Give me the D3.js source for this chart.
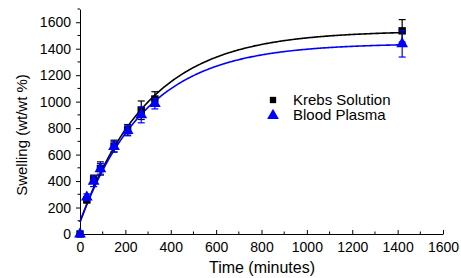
<!DOCTYPE html>
<html><head><meta charset="utf-8">
<script src="https://cdnjs.cloudflare.com/ajax/libs/d3/7.8.5/d3.min.js"></script>
<style>body{margin:0;background:#fff}svg{display:block}text{font-family:"Liberation Sans",Arial,sans-serif}</style>
</head><body><svg id="c" width="461" height="278"></svg>
<script>
const times = [0, 30, 60, 90, 150, 210, 270, 330, 1420];
const krebs = [0, 258, 415, 495, 664, 787, 935, 1020, 1535];
const krebsErr = [0, 22, 30, 50, 45, 40, 70, 55, 85];
const plasma = [0, 278, 398, 492, 660, 782, 900, 985, 1437];
const plasmaErr = [0, 25, 40, 40, 40, 40, 60, 40, 100];
// fitted model parameters: y0, amplitude, tau (minutes)
const krebsFit = [90, 1445, 303];
const plasmaFit = [90, 1350, 292];
const xTicks = [0, 200, 400, 600, 800, 1000, 1200, 1400, 1600];
const yTicks = [0, 200, 400, 600, 800, 1000, 1200, 1400, 1600];
const seriesNames = ["Krebs Solution", "Blood Plasma"];
const colors = ["#000000", "#0000ff"];

const svg = d3.select("#c");
const x = d3.scaleLinear().domain([0, 1600]).range([80, 443]);
const y = d3.scaleLinear().domain([0, 1700]).range([234, 9]);
const fmt = d3.format("d");

// axes
const xAxis = d3.axisBottom(x).tickValues(xTicks).tickFormat(fmt).tickSizeOuter(0);
const gx = svg.append("g").attr("transform", `translate(0,${y(0)})`).call(xAxis);
gx.selectAll(".tick line").attr("y2", -4);
const xMinor = d3.range(100, 1600, 200);
gx.selectAll(".minor").data(xMinor).enter().append("line")
  .attr("x1", d => x(d)).attr("x2", d => x(d)).attr("y1", 0).attr("y2", -2.5).attr("stroke", "#000");
gx.selectAll("text").attr("font-size", 14).attr("fill", "#000").attr("dy", "0.71em").attr("y", 8);
gx.select(".domain").attr("stroke", "#000");

const yAxis = d3.axisLeft(y).tickValues(yTicks).tickFormat(fmt).tickSizeInner(4).tickSizeOuter(0).tickPadding(5);
const gy = svg.append("g").attr("transform", `translate(${x(0)},0)`).call(yAxis);
const yMinor = d3.range(100, 1800, 200);
gy.selectAll(".minor").data(yMinor).enter().append("line")
  .attr("x1", 0).attr("x2", -2.5).attr("y1", d => y(d)).attr("y2", d => y(d)).attr("stroke", "#000");
gy.selectAll("text").attr("font-size", 14).attr("fill", "#000");
gy.select(".domain").attr("stroke", "#000");

svg.append("text").attr("x", 262).attr("y", 273).attr("text-anchor", "middle")
  .attr("font-size", 16).text("Time (minutes)");
svg.append("text").attr("transform", `translate(27,135) rotate(-90)`)
  .attr("text-anchor", "middle").attr("font-size", 15).text("Swelling (wt/wt %)");

// fitted curves
const line = d3.line().x(d => x(d[0])).y(d => y(d[1]));
[krebsFit, plasmaFit].forEach((p, i) => {
  const pts = d3.range(0, 1421, 5).map(t => [t, p[0] + p[1] * (1 - Math.exp(-t / p[2]))]);
  svg.append("path").attr("d", line(pts)).attr("fill", "none").attr("stroke", colors[i]).attr("stroke-width", 1.6);
});

// series points with error bars
const series = [
  {vals: krebs, err: krebsErr, sym: d3.symbolSquare, size: 55},
  {vals: plasma, err: plasmaErr, sym: d3.symbolTriangle, size: 60}
];
series.forEach((s, i) => {
  const g = svg.append("g");
  times.forEach((t, j) => {
    const e = s.err[j];
    if (e > 0) {
      const cx = x(t), y1 = y(s.vals[j] - e), y2 = y(s.vals[j] + e);
      g.append("line").attr("x1", cx).attr("x2", cx).attr("y1", y1).attr("y2", y2).attr("stroke", colors[i]).attr("stroke-width", 1.2);
      [y1, y2].forEach(yy => g.append("line").attr("x1", cx - 3.5).attr("x2", cx + 3.5).attr("y1", yy).attr("y2", yy).attr("stroke", colors[i]).attr("stroke-width", 1.2));
    }
    g.append("path").attr("d", d3.symbol(s.sym, s.size)()).attr("transform", `translate(${x(t)},${y(s.vals[j])})`).attr("fill", colors[i]);
  });
});

// legend
const leg = svg.append("g");
seriesNames.forEach((n, i) => {
  const ly = 100 + i * 15.5;
  leg.append("path").attr("d", d3.symbol(series[i].sym, i ? 60 : 40)()).attr("transform", `translate(273,${ly})`).attr("fill", colors[i]);
  leg.append("text").attr("x", 293).attr("y", ly + 4.5).attr("font-size", 15).text(n);
});
</script></body></html>
